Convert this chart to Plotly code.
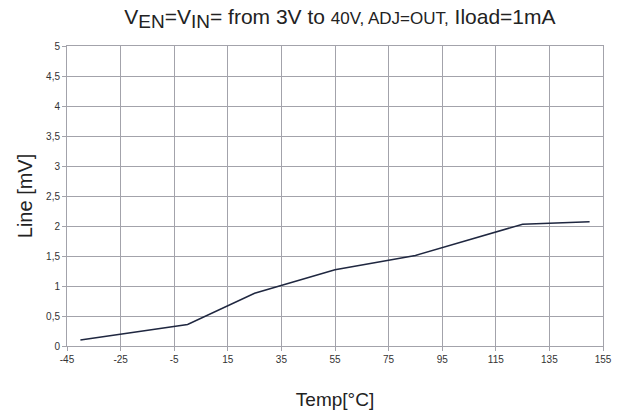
import plotly.graph_objects as go

temp = [-40, 0, 25, 55, 85, 125, 150]
line_mv = [0.10, 0.36, 0.88, 1.27, 1.51, 2.03, 2.07]

x_ticks = [-45, -25, -5, 15, 35, 55, 75, 95, 115, 135, 155]
y_ticks = [0, 0.5, 1, 1.5, 2, 2.5, 3, 3.5, 4, 4.5, 5]
y_tick_text = ["0", "0,5", "1", "1,5", "2", "2,5", "3", "3,5", "4", "4,5", "5"]

grid_col = "#A3A3AB"
font_fam = "Liberation Sans, Arial, sans-serif"

fig = go.Figure()
fig.add_trace(go.Scatter(x=temp, y=line_mv, mode="lines",
                         line=dict(color="#1F2740", width=1.5),
                         showlegend=False, hoverinfo="skip"))

fig.update_layout(
    width=626, height=418,
    margin=dict(l=67, r=23, t=46, b=72),
    paper_bgcolor="white", plot_bgcolor="white",
    font=dict(family=font_fam, color="#222"),
    title=dict(
        text=("V<sub><span style='font-size:19px'>EN</span></sub>=V<sub><span style='font-size:19px'>IN</span></sub>"
              "= from 3V to <span style='font-size:17px'>40V, ADJ=OUT,</span> Iload=1mA"),
        x=0.543, xanchor="center", y=0.96, yanchor="middle",
        font=dict(size=21, family=font_fam, color="#222")),
    xaxis=dict(range=[-45, 155], tickvals=x_ticks, ticktext=[str(v) for v in x_ticks],
               showgrid=True, gridcolor=grid_col, gridwidth=1,
               showline=True, linecolor=grid_col, linewidth=1, mirror=True,
               ticks="outside", ticklen=4, tickcolor=grid_col,
               tickfont=dict(size=10, color="#333"), zeroline=False,
               title=dict(text="Temp[°C]", font=dict(size=19, color="#222"), standoff=28)),
    yaxis=dict(range=[0, 5], tickvals=y_ticks, ticktext=y_tick_text,
               showgrid=True, gridcolor=grid_col, gridwidth=1,
               showline=True, linecolor=grid_col, linewidth=1, mirror=True,
               ticks="outside", ticklen=4, tickcolor=grid_col,
               tickfont=dict(size=10, color="#333"), zeroline=False,
               title=dict(text="Line [mV]", font=dict(size=20, color="#222"), standoff=8)),
)

fig.write_html("out.html")
